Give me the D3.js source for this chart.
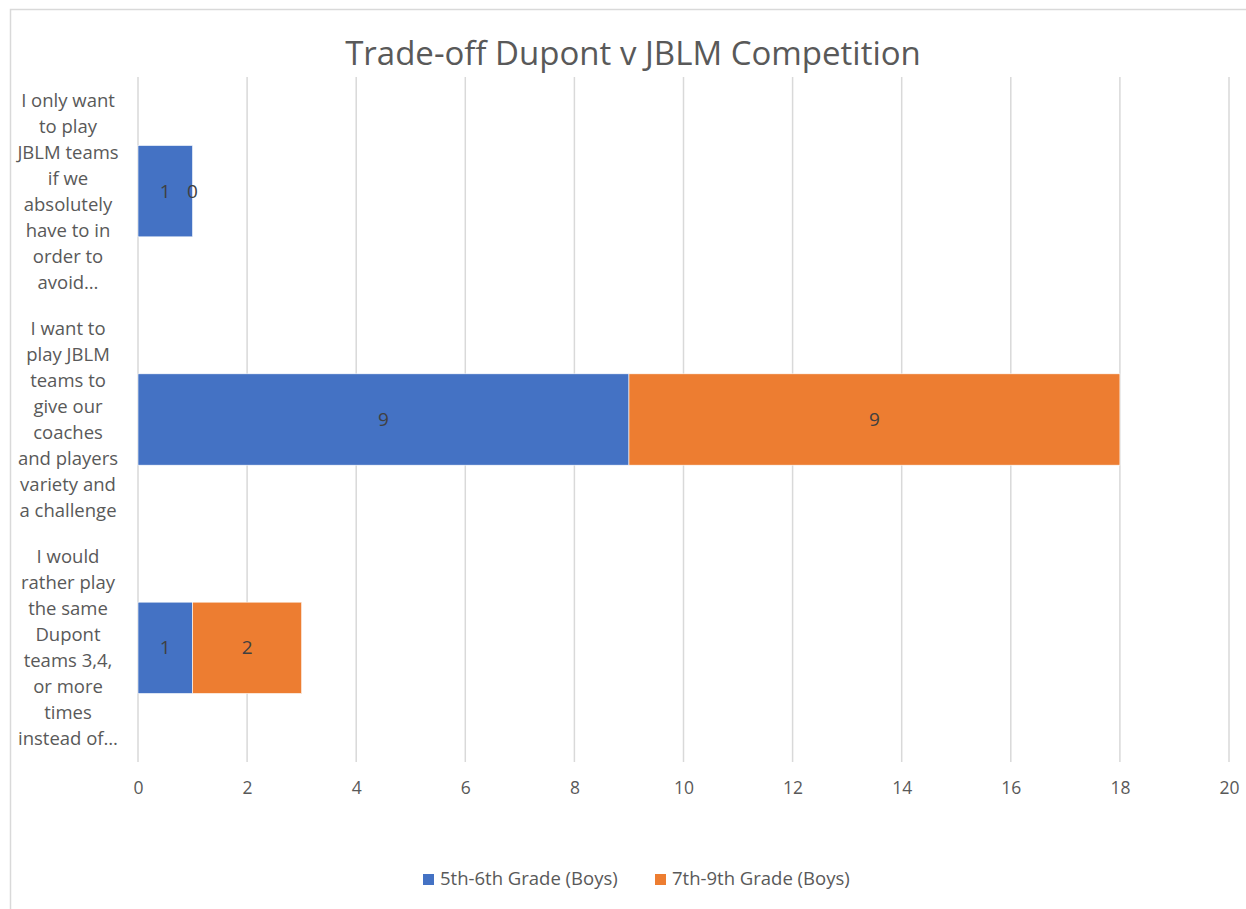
<!DOCTYPE html>
<html>
<head>
<meta charset="utf-8">
<script src="https://cdn.jsdelivr.net/npm/d3@7"></script>
<style>
  body { margin: 0; background: #fff; }
  text { font-family: "Open Sans", "Noto Sans", sans-serif; }
</style>
</head>
<body>
<div id="chart"></div>
<script>
// Chart data
const categories = [
  ["I only want", "to play", "JBLM teams", "if we", "absolutely", "have to in", "order to", "avoid…"],
  ["I want to", "play JBLM", "teams to", "give our", "coaches", "and players", "variety and", "a challenge"],
  ["I would", "rather play", "the same", "Dupont", "teams 3,4,", "or more", "times", "instead of…"],
];
const seriesNames = ["5th-6th Grade (Boys)", "7th-9th Grade (Boys)"];
const grade56 = [1, 9, 1];
const grade79 = [0, 9, 2];
const xTicks = [0, 2, 4, 6, 8, 10, 12, 14, 16, 18, 20];

// Layout
const W = 1246, H = 909;
const PLOT = {LEFT: 138, RIGHT: 1229, TOP: 77, BOTTOM: 762};
const COLORS = ["#4472C4", "#ED7D31"];
const TEXT = "#595959";

const svg = d3.select("#chart").append("svg").attr("width", W).attr("height", H);

// outer chart border (cut off at right/bottom like the screenshot)
svg.append("rect")
  .attr("x", 10.5).attr("y", 9.5)
  .attr("width", W + 20).attr("height", H + 20)
  .attr("fill", "none").attr("stroke", "#d9d9d9").attr("stroke-width", 1.5);

svg.append("text")
  .attr("x", 633).attr("y", 65)
  .attr("text-anchor", "middle")
  .attr("font-size", 33)
  .attr("fill", TEXT)
  .text("Trade-off Dupont v JBLM Competition");

const x = d3.scaleLinear().domain([0, 20]).range([PLOT.LEFT, PLOT.RIGHT]);
const y = d3.scaleBand()
  .domain(d3.range(categories.length))
  .range([PLOT.TOP, PLOT.BOTTOM])
  .paddingInner(0.6)
  .paddingOuter(0.3);

// gridlines
svg.append("g")
  .selectAll("line")
  .data(xTicks)
  .join("line")
  .attr("x1", d => x(d)).attr("x2", d => x(d))
  .attr("y1", PLOT.TOP).attr("y2", PLOT.BOTTOM)
  .attr("stroke", "#d9d9d9").attr("stroke-width", 1.5);

// x axis labels
const xAxis = svg.append("g")
  .attr("transform", `translate(0,${PLOT.BOTTOM})`)
  .call(d3.axisBottom(x).tickValues(xTicks).tickSize(0).tickPadding(20));
xAxis.select(".domain").remove();
xAxis.selectAll("text").attr("font-size", 17.5).attr("fill", TEXT)
  .style("font-family", '"Open Sans", "Noto Sans", sans-serif');

// stacked data
const rows = categories.map((c, i) => ({i, a: grade56[i], b: grade79[i]}));
const stack = d3.stack().keys(["a", "b"])(rows);

const layers = svg.append("g")
  .selectAll("g")
  .data(stack)
  .join("g")
  .attr("fill", (d, i) => COLORS[i]);

layers.selectAll("rect")
  .data(d => d)
  .join("rect")
  .attr("x", d => x(d[0]))
  .attr("y", d => y(d.data.i))
  .attr("width", d => x(d[1]) - x(d[0]))
  .attr("height", y.bandwidth())
  .attr("stroke", "#fff")
  .attr("stroke-width", 0.6);

// data labels
layers.selectAll("text")
  .data(d => d.map(v => ({v, key: d.key})))
  .join("text")
  .attr("x", d => (x(d.v[0]) + x(d.v[1])) / 2)
  .attr("y", d => y(d.v.data.i) + y.bandwidth() / 2)
  .attr("dy", "0.35em")
  .attr("text-anchor", "middle")
  .attr("font-size", 19)
  .attr("fill", "#404040")
  .text(d => d.v.data[d.key]);

// category labels
const catG = svg.append("g")
  .selectAll("text")
  .data(categories)
  .join("text")
  .attr("text-anchor", "middle")
  .attr("font-size", 18.5)
  .attr("fill", TEXT);

catG.each(function(lines, i) {
  const cy = y(i) + y.bandwidth() / 2;
  const lh = 26;
  d3.select(this).selectAll("tspan")
    .data(lines)
    .join("tspan")
    .attr("x", 68)
    .attr("y", (d, j) => cy + (j - (lines.length - 1) / 2) * lh)
    .attr("dy", "0.35em")
    .text(d => d);
});

// legend
const legend = svg.append("g").attr("transform", "translate(0,879)");
const legendX = [423, 655];
seriesNames.forEach((name, i) => {
  legend.append("rect")
    .attr("x", legendX[i]).attr("y", -5)
    .attr("width", 11).attr("height", 11)
    .attr("fill", COLORS[i]);
  legend.append("text")
    .attr("x", legendX[i] + 17).attr("y", 0)
    .attr("dy", "0.35em")
    .attr("font-size", 18.5)
    .attr("fill", TEXT)
    .text(name);
});
</script>
</body>
</html>
